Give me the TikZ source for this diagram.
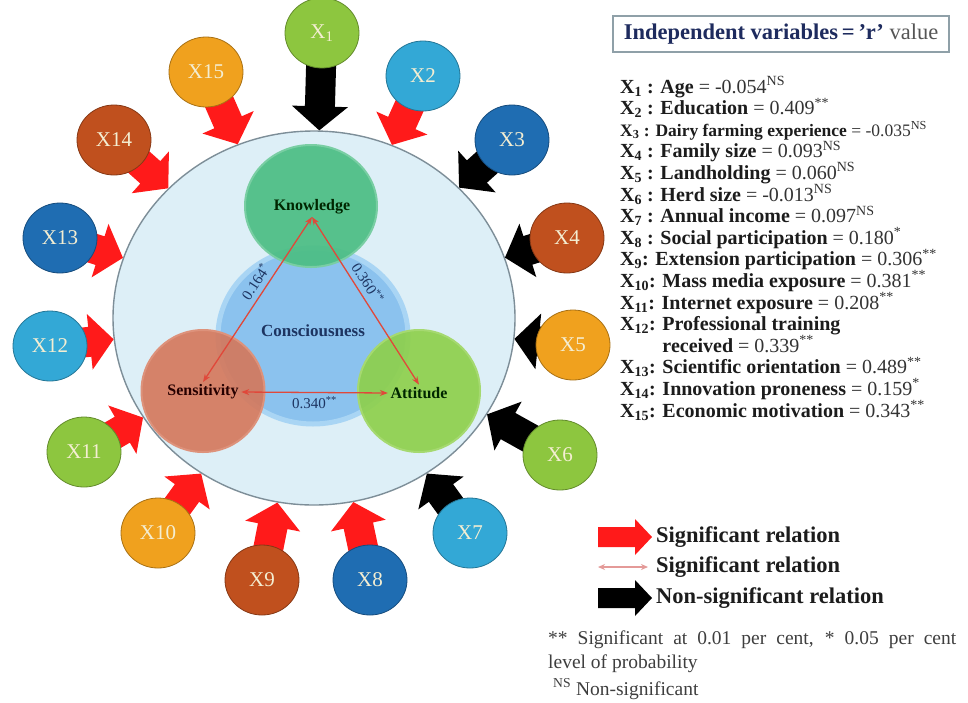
\documentclass[tikz,border=0pt]{standalone}
\usepackage{fontspec}
\setmainfont{Liberation Serif}
\usetikzlibrary{calc,arrows.meta,shapes.geometric}
\definecolor{cgreen}{HTML}{8DC63F}
\definecolor{cltblue}{HTML}{33A8D6}
\definecolor{cdkblue}{HTML}{1F6DB2}
\definecolor{cbrown}{HTML}{C0501E}
\definecolor{corange}{HTML}{F0A11E}
\definecolor{xtxt}{HTML}{F4EED2}
\definecolor{bigfill}{HTML}{DDEFF7}
\definecolor{bigline}{HTML}{7D8E98}
\definecolor{consfill}{HTML}{8BC2EE}
\definecolor{consrim}{HTML}{A9D5F4}
\definecolor{knowfill}{HTML}{4CBE84}
\definecolor{sensfill}{HTML}{D5775A}
\definecolor{attfill}{HTML}{8ED04C}
\definecolor{sigred}{HTML}{FF1A1A}
\definecolor{inred}{HTML}{E0483A}
\definecolor{navy}{HTML}{1D3461}
\definecolor{titlenavy}{HTML}{1E2B5E}
\definecolor{boxline}{HTML}{8FA0A8}
\definecolor{legtxt}{HTML}{1C1C1C}
\definecolor{valgray}{HTML}{555555}
\definecolor{thinpink}{HTML}{E49A98}

\pgfdeclarelayer{bg}
\pgfdeclarelayer{arr}
\pgfsetlayers{bg,arr,main}

\newcommand\blockarr[6]{% from, to, colour, shaft half width, head half width, head length
  \path (#1) -- (#2) coordinate[pos=0] (bas) coordinate[pos=1] (bae);
  \coordinate (ban) at ($(bae)!#6!(bas)$);
  \coordinate (bab) at ($(bas)!-8pt!(bae)$);
  \fill[#3] ($(bab)!#4!90:(bae)$) -- ($(ban)!#4!90:(bae)$) -- ($(ban)!#5!90:(bae)$) -- (bae)
    -- ($(ban)!#5!-90:(bae)$) -- ($(ban)!#4!-90:(bae)$) -- ($(bab)!#4!-90:(bae)$) -- cycle;
}
\newcommand\valtxt[1]{{\mdseries\color{black!80} #1}}

\begin{document}
\begin{tikzpicture}[x=1pt,y=-1pt,
  xc/.style={ellipse, minimum width=74pt, minimum height=70pt, inner sep=0pt,
    fill=#1, draw=#1!70!black, line width=0.8pt, text=xtxt,
    font=\fontsize{21}{21}\selectfont},
  innerc/.style={ellipse, inner sep=0pt},
  intxt/.style={font=\bfseries\fontsize{16}{16}\selectfont, inner sep=2.5pt},
  inarr/.style={draw=inred, line width=1.3pt, >={Stealth[length=8pt,width=6pt]}, <->},
  rlab/.style={font=\fontsize{15}{15}\selectfont, text=navy, inner sep=1pt},
  li/.style={anchor=west, inner sep=0pt, text height=13pt, text depth=3pt, text=legtxt, font=\bfseries\fontsize{20}{20}\selectfont},
  lg/.style={anchor=west, inner sep=0pt, text=legtxt, font=\bfseries\fontsize{22.5}{22.5}\selectfont},
  fn/.style={anchor=west, inner sep=0pt, text=legtxt!85!white, font=\fontsize{19.5}{19.5}\selectfont}
]
\useasboundingbox (0,0) rectangle (968,702);

\begin{pgfonlayer}{bg}
\fill[white] (0,0) rectangle (968,702);
\node[innerc, minimum width=402pt, minimum height=374pt, fill=bigfill, draw=bigline, line width=1.4pt] (big) at (314,318) {};
\node[innerc, minimum width=190pt, minimum height=176pt, fill=consfill, draw=consrim, line width=5pt] (cons) at (313,336) {};
\node[innerc, minimum width=132pt, minimum height=122pt, fill=knowfill, fill opacity=0.93, draw=knowfill!75!white, line width=2pt] (know) at (311,206) {};
\node[innerc, minimum width=123pt, minimum height=122pt, fill=sensfill, fill opacity=0.9, draw=sensfill!80!white, line width=2pt] (sens) at (203,391) {};
\node[innerc, minimum width=122pt, minimum height=122pt, fill=attfill, fill opacity=0.92, draw=attfill!80!white, line width=2pt] (att) at (419,391) {};
\node[intxt, text=navy, font=\bfseries\fontsize{17}{17}\selectfont] (ct) at (313,331) {Consciousness};
\node[intxt, text=black!85!green] (kt) at (312,207) {Knowledge};
\node[intxt, text=black!85!red] (st) at (203,392) {Sensitivity};
\node[intxt, text=black!85!green] (at) at (419,393) {Attitude};
\draw[inarr] (kt.south) -- node[sloped, above=4pt, rlab, pos=0.43] {0.164\textsuperscript{*}} (st.north);
\draw[inarr] (kt.south) -- node[sloped, above=4pt, rlab, pos=0.43] {0.360\textsuperscript{**}} (at.north);
\draw[inarr] (st.east) -- node[below=2pt, rlab] {0.340\textsuperscript{**}} (at.west);
\end{pgfonlayer}

\node[xc=cgreen]  (x1)  at (322,33)  {X\textsubscript{1}};
\node[xc=cltblue] (x2)  at (423,76)  {X2};
\node[xc=cdkblue] (x3)  at (512,140) {X3};
\node[xc=cbrown]  (x4)  at (567,238) {X4};
\node[xc=corange] (x5)  at (573,345) {X5};
\node[xc=cgreen]  (x6)  at (560,455) {X6};
\node[xc=cltblue] (x7)  at (470,533) {X7};
\node[xc=cdkblue] (x8)  at (370,580) {X8};
\node[xc=cbrown]  (x9)  at (262,580) {X9};
\node[xc=corange] (x10) at (158,533) {X10};
\node[xc=cgreen]  (x11) at (84,452)  {X11};
\node[xc=cltblue] (x12) at (50,346)  {X12};
\node[xc=cdkblue] (x13) at (60,238)  {X13};
\node[xc=cbrown]  (x14) at (114,140) {X14};
\node[xc=corange] (x15) at (206,72)  {X15};

\begin{pgfonlayer}{arr}
\blockarr{x1}{big}{black}{15pt}{28pt}{24pt}
\blockarr{x2}{big}{sigred}{15pt}{28pt}{24pt}
\blockarr{x3}{big}{black}{15pt}{28pt}{24pt}
\blockarr{x4}{big}{black}{15pt}{28pt}{24pt}
\blockarr{x5}{big}{black}{15pt}{28pt}{24pt}
\blockarr{x6}{big}{black}{15pt}{28pt}{24pt}
\blockarr{x7}{big}{black}{15pt}{28pt}{24pt}
\blockarr{x8}{big}{sigred}{15pt}{28pt}{24pt}
\blockarr{x9}{big}{sigred}{15pt}{28pt}{24pt}
\blockarr{x10}{big}{sigred}{15pt}{28pt}{24pt}
\blockarr{x11}{big}{sigred}{15pt}{28pt}{24pt}
\blockarr{x12}{big}{sigred}{15pt}{28pt}{24pt}
\blockarr{x13}{big}{sigred}{15pt}{28pt}{24pt}
\blockarr{x14}{big}{sigred}{15pt}{28pt}{24pt}
\blockarr{x15}{big}{sigred}{15pt}{28pt}{24pt}
\end{pgfonlayer}

% title box
\node[draw=boxline, line width=1.5pt, fill=white, inner xsep=11pt, inner ysep=8pt,
  font=\bfseries\fontsize{22.5}{22.5}\selectfont, text=titlenavy] (title) at (781,34)
  {Independent variables\,=\,'r' {\mdseries\color{valgray}value}};

% list
\node[li] (l1)  at (620,88.0)  {X\textsubscript{1} : Age \valtxt{= -0.054\textsuperscript{NS}}};
\node[li] (l2)  at (620,109.6) {X\textsubscript{2} : Education \valtxt{ = 0.409\textsuperscript{**}}};
\node[li, font=\bfseries\fontsize{17.5}{17.5}\selectfont] (l3) at (620,131.2) {X\textsubscript{3} : Dairy farming experience \valtxt{= -0.035\textsuperscript{NS}}};
\node[li] (l4)  at (620,152.8) {X\textsubscript{4} : Family size \valtxt{= 0.093\textsuperscript{NS}}};
\node[li] (l5)  at (620,174.4) {X\textsubscript{5} : Landholding \valtxt{ = 0.060\textsuperscript{NS}}};
\node[li] (l6)  at (620,196.0) {X\textsubscript{6} : Herd size \valtxt{= -0.013\textsuperscript{NS}}};
\node[li] (l7)  at (620,217.6) {X\textsubscript{7} : Annual income \valtxt{= 0.097\textsuperscript{NS}}};
\node[li] (l8)  at (620,239.2) {X\textsubscript{8} : Social participation \valtxt{ = 0.180\textsuperscript{*}}};
\node[li] (l9)  at (620,260.8) {X\textsubscript{9}: Extension participation \valtxt{ = 0.306\textsuperscript{**}}};
\node[li] (l10) at (620,282.4) {X\textsubscript{10}: Mass media exposure \valtxt{= 0.381\textsuperscript{**}}};
\node[li] (l11) at (620,304.0) {X\textsubscript{11}: Internet exposure \valtxt{= 0.208\textsuperscript{**}}};
\node[li] (l12) at (620,325.6) {X\textsubscript{12}: Professional training};
\node[li] (l12b) at (620,347.2) {\phantom{X\textsubscript{12}: }received \valtxt{= 0.339\textsuperscript{**}}};
\node[li] (l13) at (620,368.8) {X\textsubscript{13}: Scientific orientation \valtxt{ = 0.489\textsuperscript{**}}};
\node[li] (l14) at (620,390.4) {X\textsubscript{14}: Innovation proneness \valtxt{= 0.159\textsuperscript{*}}};
\node[li] (l15) at (620,412.0) {X\textsubscript{15}: Economic motivation \valtxt{= 0.343\textsuperscript{**}}};

% legend arrows
\coordinate (lra) at (606,537);
\coordinate (lrb) at (652,537);
\blockarr{lra}{lrb}{sigred}{10pt}{18pt}{17pt}
\coordinate (lta) at (598,567);
\coordinate (ltb) at (648,567);
\draw[thinpink, line width=1.2pt, >={Stealth[length=7pt,width=6pt]}, <->] (lta) -- (ltb);
\coordinate (lba) at (606,598);
\coordinate (lbb) at (652,598);
\blockarr{lba}{lbb}{black}{10pt}{18pt}{17pt}
\node[lg] (lg1) at (656,537) {Significant relation};
\node[lg] (lg2) at (656,567) {Significant relation};
\node[lg] (lg3) at (656,598) {Non-significant relation};

% footnote
\node[fn] (f1) at (548,640) {\makebox[408pt][s]{** Significant at 0.01 per cent, * 0.05 per cent}};
\node[fn] (f2) at (548,664) {level of probability};
\node[fn] (f3) at (553,689) {\textsuperscript{NS} Non-significant};
\end{tikzpicture}
\end{document}
